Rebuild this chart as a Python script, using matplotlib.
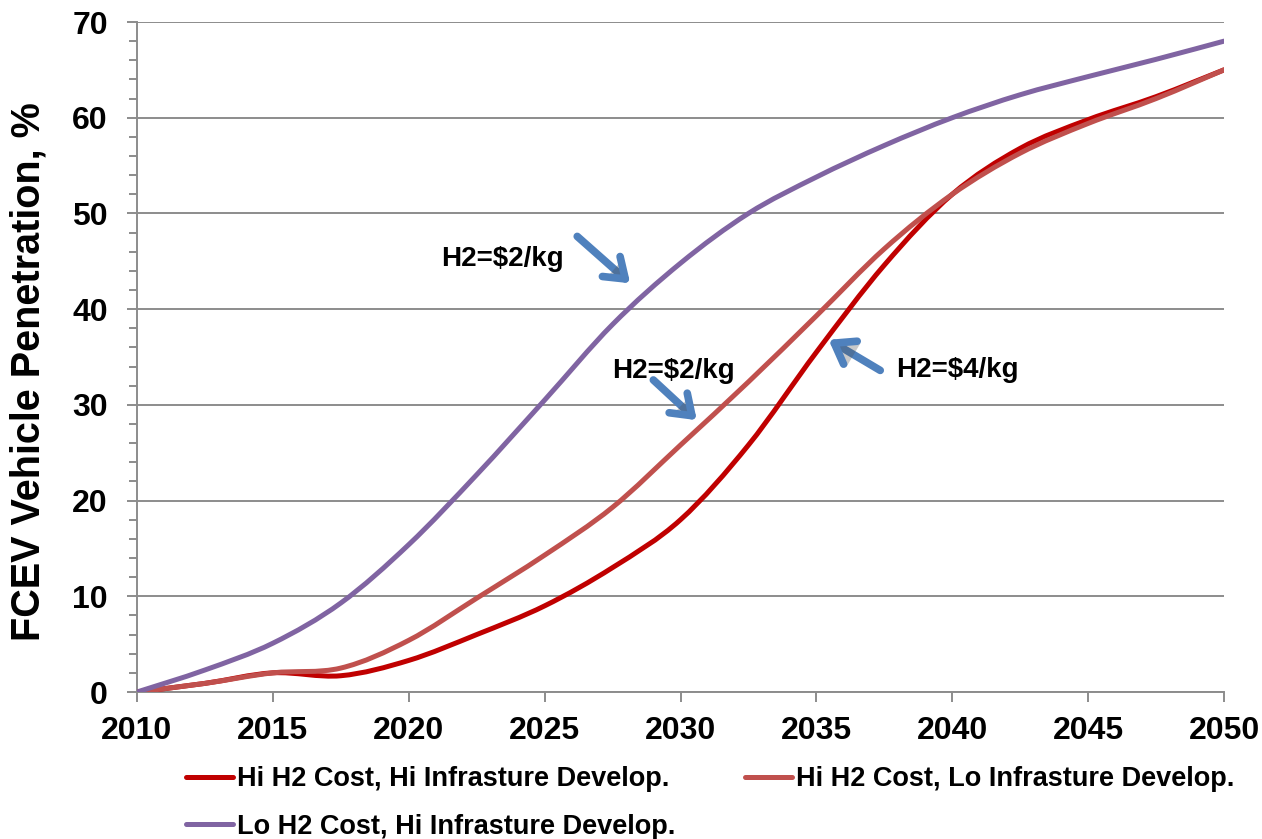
import matplotlib
matplotlib.use("Agg")
import matplotlib.pyplot as plt
import matplotlib.patheffects as pe
from matplotlib.path import Path
from matplotlib.patches import PathPatch
from matplotlib.lines import Line2D
from matplotlib.ticker import MultipleLocator

years = [2010, 2012.5, 2015, 2017.5, 2020, 2022.5, 2025, 2027.5, 2030,
         2032.5, 2035, 2037.5, 2040, 2042.5, 2045, 2047.5, 2050]
hi_cost_hi_infra = [0, 0.9, 2.0, 1.7, 3.3, 6.0, 9.0, 13.0, 18.0,
                    25.8, 35.5, 44.6, 52.0, 56.8, 59.8, 62.2, 65.0]
hi_cost_lo_infra = [0, 0.9, 2.0, 2.5, 5.4, 9.8, 14.3, 19.3, 25.8,
                    32.4, 39.3, 46.3, 52.0, 56.3, 59.4, 62.0, 65.0]
lo_cost_hi_infra = [0, 2.3, 5.1, 9.3, 15.4, 22.7, 30.5, 38.4, 44.8,
                    50.0, 53.8, 57.1, 60.0, 62.4, 64.3, 66.1, 68.0]

labels = ["Hi H2 Cost, Hi Infrasture Develop.",
          "Hi H2 Cost, Lo Infrasture Develop.",
          "Lo H2 Cost, Hi Infrasture Develop."]
colors = ["#C00000", "#C0504D", "#8064A2"]

# annotation text, text anchor, arrow tail, arrow tip, alignment
notes = [("H2=$2/kg", (2025.7, 44.5), (2026.2, 47.6), (2028.15, 42.7), "right"),
         ("H2=$2/kg", (2027.5, 32.8), (2029.0, 32.6), (2030.6, 28.4), "left"),
         ("H2=$4/kg", (2037.95, 32.9), (2037.35, 33.6), (2035.45, 36.8), "left")]

plt.rcParams["font.family"] = ["Liberation Sans", "DejaVu Sans"]
plt.rcParams["font.weight"] = "bold"


def smooth(xs, ys):
    # excel style smoothed line: bezier segments through the points
    verts = [(xs[0], ys[0])]
    codes = [Path.MOVETO]
    n = len(xs)
    for i in range(n - 1):
        a = max(i - 1, 0)
        b = min(i + 2, n - 1)
        c1 = (xs[i] + (xs[i + 1] - xs[a]) / 6.0, ys[i] + (ys[i + 1] - ys[a]) / 6.0)
        c2 = (xs[i + 1] - (xs[b] - xs[i]) / 6.0, ys[i + 1] - (ys[b] - ys[i]) / 6.0)
        verts += [c1, c2, (xs[i + 1], ys[i + 1])]
        codes += [Path.CURVE4] * 3
    return Path(verts, codes)


fig = plt.figure(figsize=(12.62, 8.39), dpi=100)
ax = fig.add_axes([137 / 1262, 1 - 692 / 839, 1087 / 1262, 670 / 839])

handles = []
for series, c, lab in zip([hi_cost_hi_infra, hi_cost_lo_infra, lo_cost_hi_infra], colors, labels):
    ax.add_patch(PathPatch(smooth(years, series), facecolor="none", edgecolor=c,
                           lw=3.6, capstyle="round", joinstyle="round", zorder=3))
    handles.append(Line2D([], [], color=c, lw=3.6, solid_capstyle="round"))

ax.set_xlim(2010, 2050)
ax.set_ylim(0, 70)
ax.xaxis.set_major_locator(MultipleLocator(5))
ax.yaxis.set_major_locator(MultipleLocator(10))
ax.yaxis.set_minor_locator(MultipleLocator(2))
ax.grid(axis="y", which="major", color="#8c8c8c", lw=1.4)
ax.set_axisbelow(True)
for s in ["top", "right"]:
    ax.spines[s].set_visible(False)
for s in ["left", "bottom"]:
    ax.spines[s].set_color("#8c8c8c")
    ax.spines[s].set_linewidth(1.4)
ax.tick_params(axis="both", which="both", color="#8c8c8c", width=1.4, labelsize=23)
ax.tick_params(axis="y", which="major", length=7, pad=14)
ax.tick_params(axis="y", which="minor", length=6)
ax.tick_params(axis="x", which="major", length=7, pad=10)
for t in ax.get_xticklabels() + ax.get_yticklabels():
    t.set_fontweight("bold")

fig.text(29 / 1262, 1 - 372 / 839, "FCEV Vehicle Penetration, %", rotation=90,
         ha="center", va="center", fontsize=28.5, fontweight="bold")

for txt, pos, tail, tip, ha in notes:
    ax.text(pos[0], pos[1], txt, ha=ha, va="baseline", fontsize=20,
            fontweight="bold", zorder=5)
    ax.annotate("", xy=tip, xytext=tail, zorder=5,
                arrowprops=dict(arrowstyle="->,head_length=0.45,head_width=0.32",
                                color="#4F81BD", lw=5.5, mutation_scale=30,
                                shrinkA=0, shrinkB=0, capstyle="round",
                                path_effects=[pe.withSimplePatchShadow(offset=(2, -2), alpha=0.3)]))

leg = fig.legend([handles[0], handles[2], handles[1]], [labels[0], labels[2], labels[1]],
                 ncol=2, loc="upper left", bbox_to_anchor=(186 / 1262, 1 - 766 / 839),
                 frameon=False, borderpad=0, borderaxespad=0, handlelength=1.75,
                 handletextpad=0.15, columnspacing=2.55, labelspacing=0.8,
                 prop=dict(weight="bold", size=19.5))

fig.savefig("out.png", dpi=100)
